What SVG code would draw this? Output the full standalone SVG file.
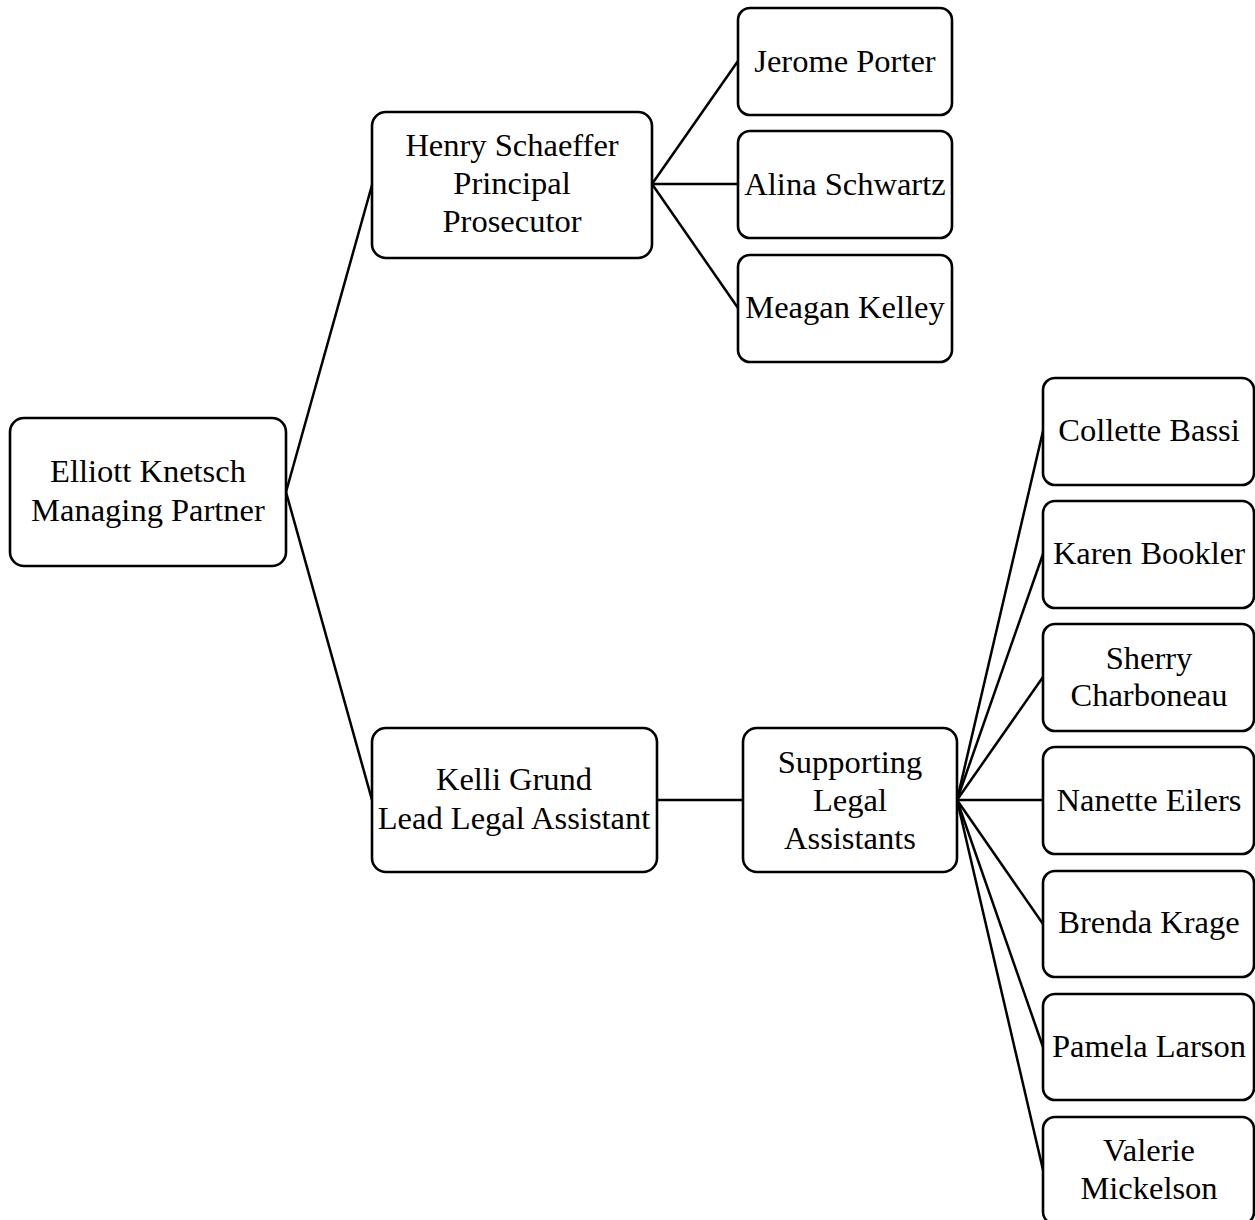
<svg xmlns="http://www.w3.org/2000/svg" width="1255" height="1220" viewBox="0 0 1255 1220">
<style>
.box{fill:#fff;stroke:#000;stroke-width:2.6}
.lbl{font-family:"Liberation Serif","DejaVu Serif",serif;font-size:32.5px;fill:#000;text-anchor:middle}
.con{stroke:#000;stroke-width:2.5;fill:none}
</style>
<rect width="1255" height="1220" fill="#fff"/>
<g id="connectors">
<line class="con" x1="286" y1="492" x2="372" y2="185"/>
<line class="con" x1="286" y1="492" x2="372" y2="800"/>
<line class="con" x1="652" y1="184" x2="738" y2="61"/>
<line class="con" x1="652" y1="184" x2="738" y2="184"/>
<line class="con" x1="652" y1="184" x2="738" y2="308"/>
<line class="con" x1="657" y1="800" x2="743" y2="800"/>
<line class="con" x1="957" y1="800" x2="1043" y2="431"/>
<line class="con" x1="957" y1="800" x2="1043" y2="554"/>
<line class="con" x1="957" y1="800" x2="1043" y2="677"/>
<line class="con" x1="957" y1="800" x2="1043" y2="800"/>
<line class="con" x1="957" y1="800" x2="1043" y2="924"/>
<line class="con" x1="957" y1="800" x2="1043" y2="1047"/>
<line class="con" x1="957" y1="800" x2="1043" y2="1170"/>
</g>
<g id="n-elliott"><rect class="box" x="10" y="418" width="276" height="148" rx="14"/><text class="lbl" x="148" y="482">Elliott Knetsch</text><text class="lbl" x="148" y="521">Managing Partner</text></g>
<g id="n-henry"><rect class="box" x="372" y="112" width="280" height="146" rx="14"/><text class="lbl" x="512" y="156">Henry Schaeffer</text><text class="lbl" x="512" y="194">Principal</text><text class="lbl" x="512" y="232">Prosecutor</text></g>
<g id="n-kelli"><rect class="box" x="372" y="728" width="285" height="144" rx="14"/><text class="lbl" x="514" y="790">Kelli Grund</text><text class="lbl" x="514" y="829">Lead Legal Assistant</text></g>
<g id="n-supporting"><rect class="box" x="743" y="728" width="214" height="144" rx="14"/><text class="lbl" x="850" y="773">Supporting</text><text class="lbl" x="850" y="811">Legal</text><text class="lbl" x="850" y="849">Assistants</text></g>
<g id="n-jerome"><rect class="box" x="738" y="8" width="214" height="107" rx="12"/><text class="lbl" x="845" y="72">Jerome Porter</text></g>
<g id="n-alina"><rect class="box" x="738" y="131" width="214" height="107" rx="12"/><text class="lbl" x="845" y="195">Alina Schwartz</text></g>
<g id="n-meagan"><rect class="box" x="738" y="255" width="214" height="107" rx="12"/><text class="lbl" x="845" y="318">Meagan Kelley</text></g>
<g id="n-collette"><rect class="box" x="1043" y="378" width="211" height="107" rx="12"/><text class="lbl" x="1149" y="441">Collette Bassi</text></g>
<g id="n-karen"><rect class="box" x="1043" y="501" width="211" height="107" rx="12"/><text class="lbl" x="1149" y="564">Karen Bookler</text></g>
<g id="n-sherry"><rect class="box" x="1043" y="624" width="211" height="107" rx="12"/><text class="lbl" x="1149" y="669">Sherry</text><text class="lbl" x="1149" y="706">Charboneau</text></g>
<g id="n-nanette"><rect class="box" x="1043" y="747" width="211" height="107" rx="12"/><text class="lbl" x="1149" y="811">Nanette Eilers</text></g>
<g id="n-brenda"><rect class="box" x="1043" y="871" width="211" height="106" rx="12"/><text class="lbl" x="1149" y="933">Brenda Krage</text></g>
<g id="n-pamela"><rect class="box" x="1043" y="994" width="211" height="106" rx="12"/><text class="lbl" x="1149" y="1057">Pamela Larson</text></g>
<g id="n-valerie"><rect class="box" x="1043" y="1117" width="211" height="107" rx="12"/><text class="lbl" x="1149" y="1161">Valerie</text><text class="lbl" x="1149" y="1199">Mickelson</text></g>
</svg>
